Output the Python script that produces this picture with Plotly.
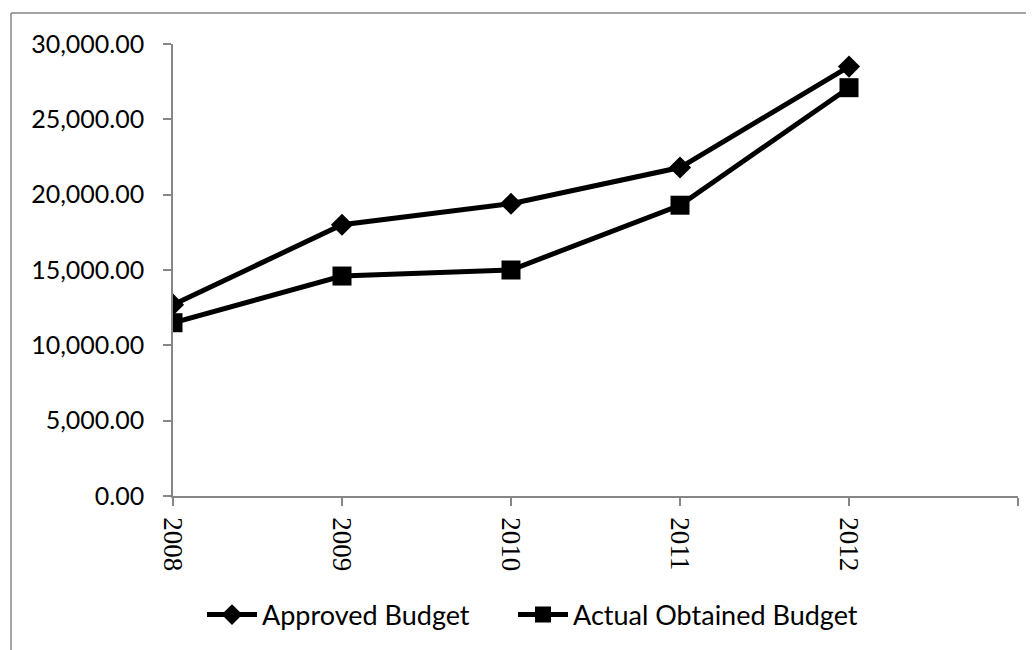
import plotly.graph_objects as go

years = ["2008", "2009", "2010", "2011", "2012"]
approved_budget = [12700, 18000, 19400, 21800, 28500]
actual_obtained_budget = [11500, 14600, 15000, 19300, 27100]
y_ticks = [0, 5000, 10000, 15000, 20000, 25000, 30000]

categories = years + [" "]

OFF = 7
L, T = 172 - OFF, 43 - OFF
pw, ph = 845, 452
W, H = 1034, 650
R, B = W - L - pw, H - T - ph


def px_x(x):
    return (x - OFF - L) / pw


def px_y(y):
    return (T + ph - (y - OFF)) / ph


fig = go.Figure()
fig.add_trace(go.Scatter(
    x=years, y=approved_budget, name="Approved Budget", mode="lines+markers",
    line=dict(color="black", width=5),
    marker=dict(symbol="diamond", size=17, color="black"),
    legend="legend",
))
fig.add_trace(go.Scatter(
    x=years, y=actual_obtained_budget, name="Actual Obtained Budget", mode="lines+markers",
    line=dict(color="black", width=5),
    marker=dict(symbol="square", size=19, color="black"),
    legend="legend2",
))

axis_gray = "#868686"
legend_common = dict(
    orientation="h", xanchor="left", y=px_y(614), yanchor="middle",
    font=dict(family="Lato", size=27, color="black"),
    itemwidth=50, bgcolor="rgba(0,0,0,0)",
)
fig.update_layout(
    width=W, height=H,
    margin=dict(l=L, r=R, t=T, b=B, autoexpand=False),
    paper_bgcolor="white", plot_bgcolor="white",
    showlegend=True,
    legend=dict(x=px_x(201), **legend_common),
    legend2=dict(x=px_x(512), **legend_common),
    xaxis=dict(
        type="category", categoryorder="array", categoryarray=categories,
        range=[0, 5], showgrid=False, zeroline=False,
        showline=True, linecolor=axis_gray, linewidth=1.5,
        ticks="outside", ticklen=8, tickcolor=axis_gray, tickwidth=1.5,
        tickmode="array", tickvals=categories, ticktext=categories,
        tickangle=90, ticklabelstandoff=6,
        tickfont=dict(family="Liberation Serif, Times New Roman, serif", size=27, color="black"),
    ),
    yaxis=dict(
        range=[0, 30000], showgrid=False, zeroline=False,
        showline=True, linecolor=axis_gray, linewidth=1.5,
        ticks="outside", ticklen=8, tickcolor=axis_gray, tickwidth=1.5,
        tickvals=y_ticks, tickformat=",.2f", ticklabelstandoff=14,
        tickfont=dict(family="Lato", size=25, color="black"),
    ),
    shapes=[
        dict(type="line", xref="paper", yref="paper",
             x0=px_x(10), x1=px_x(W + 20), y0=px_y(12), y1=px_y(12),
             line=dict(color=axis_gray, width=1.5)),
        dict(type="line", xref="paper", yref="paper",
             x0=px_x(10), x1=px_x(10), y0=px_y(12), y1=px_y(H + 20),
             line=dict(color=axis_gray, width=1.5)),
    ],
)

fig.write_html("out.html")
